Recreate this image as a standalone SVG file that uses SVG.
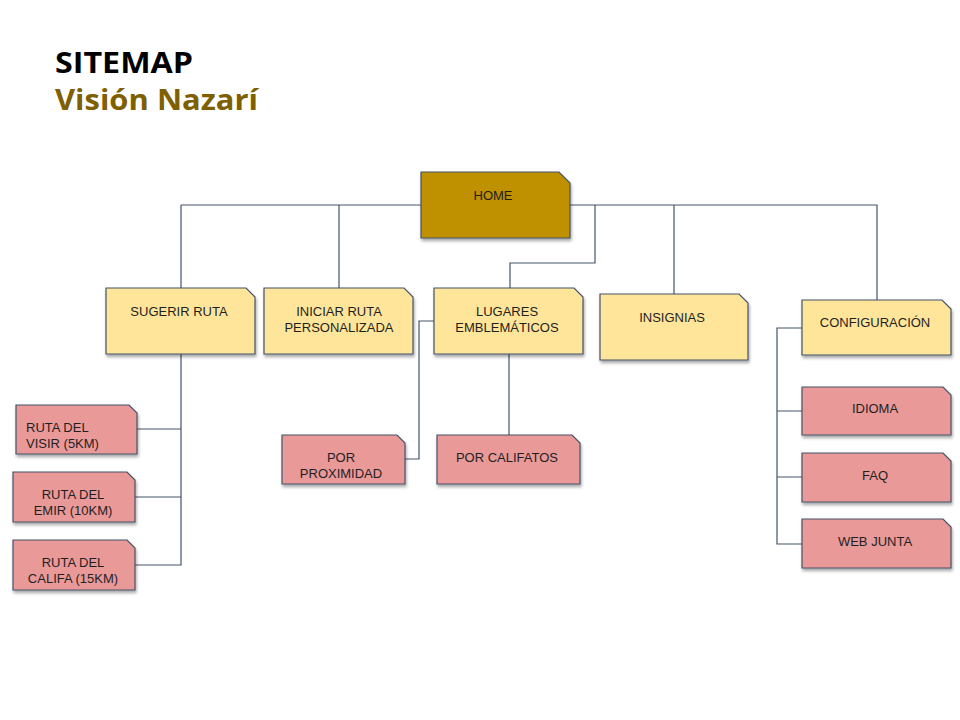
<svg xmlns="http://www.w3.org/2000/svg" width="960" height="720" viewBox="0 0 960 720">
<defs>
<filter id="sh" x="-10%" y="-10%" width="130%" height="140%">
<feDropShadow dx="1" dy="2.5" stdDeviation="1.5" flood-color="#000" flood-opacity="0.35"/>
</filter>
<style>
.box{stroke:#44546A;stroke-width:1.2;filter:url(#sh)}
.home{fill:#BF9000}
.y{fill:#FFE599}
.p{fill:#EA9999}
.t{font-family:"Liberation Sans",Arial,sans-serif;font-size:13px;fill:#1f1f1f;text-anchor:middle}
.tl{text-anchor:start}
.c{fill:none;stroke:#44546A;stroke-width:1.2}
</style>
</defs>
<rect width="960" height="720" fill="#fff"/>
<text x="55" y="73" font-family="'Open Sans',sans-serif" font-weight="bold" font-size="29" fill="#000" textLength="138" lengthAdjust="spacingAndGlyphs">SITEMAP</text>
<text x="55" y="110" font-family="'Open Sans',sans-serif" font-weight="bold" font-size="29" fill="#7F6000" textLength="203" lengthAdjust="spacingAndGlyphs">Visión Nazarí</text>

<g id="connectors" class="c">
<path d="M181,205 H421 M570,205 H877 V300"/>
<path d="M181,205 V288 M339,205 V288 M674,205 V294"/>
<path d="M595,205 V263 H510 V288"/>
<path d="M181,354 V565 H135 M137,429 H181 M135,497 H181"/>
<path d="M434,321 H419 V459 H405"/>
<path d="M509,354 V435"/>
<path d="M802,328 H777 V544 H802 M777,411 H802 M777,477 H802"/>
</g>

<g id="home"><path class="box home" d="M421,172 H559 L570,183 V238 H421 Z"/><text class="t" x="493" y="200">HOME</text></g>
<g id="sugerir"><path class="box y" d="M106,288 H246 L255,297 V354 H106 Z"/><text class="t" x="179" y="316">SUGERIR RUTA</text></g>
<g id="iniciar"><path class="box y" d="M264,288 H404 L413,297 V354 H264 Z"/><text class="t" x="339" y="316">INICIAR RUTA</text><text class="t" x="339" y="332">PERSONALIZADA</text></g>
<g id="lugares"><path class="box y" d="M434,288 H574 L583,297 V354 H434 Z"/><text class="t" x="507" y="316">LUGARES</text><text class="t" x="507" y="332">EMBLEMÁTICOS</text></g>
<g id="insignias"><path class="box y" d="M600,294 H739 L748,303 V360 H600 Z"/><text class="t" x="672" y="322">INSIGNIAS</text></g>
<g id="config"><path class="box y" d="M802,300 H942 L951,309 V355 H802 Z"/><text class="t" x="875" y="327">CONFIGURACIÓN</text></g>

<g id="visir"><path class="box p" d="M16,405 H129 L137,413 V454 H16 Z"/><text class="t tl" x="26" y="432">RUTA DEL</text><text class="t tl" x="26" y="448">VISIR (5KM)</text></g>
<g id="emir"><path class="box p" d="M13,472 H127 L135,480 V522 H13 Z"/><text class="t" x="73" y="499">RUTA DEL</text><text class="t" x="73" y="515">EMIR (10KM)</text></g>
<g id="califa"><path class="box p" d="M13,540 H127 L135,548 V590 H13 Z"/><text class="t" x="73" y="567">RUTA DEL</text><text class="t" x="73" y="583">CALIFA (15KM)</text></g>

<g id="proximidad"><path class="box p" d="M282,435 H397 L405,443 V484 H282 Z"/><text class="t" x="341" y="462">POR</text><text class="t" x="341" y="478">PROXIMIDAD</text></g>
<g id="califatos"><path class="box p" d="M437,435 H572 L580,443 V484 H437 Z"/><text class="t" x="507" y="462">POR CALIFATOS</text></g>

<g id="idioma"><path class="box p" d="M802,387 H943 L951,395 V435 H802 Z"/><text class="t" x="875" y="413">IDIOMA</text></g>
<g id="faq"><path class="box p" d="M802,453 H943 L951,461 V502 H802 Z"/><text class="t" x="875" y="480">FAQ</text></g>
<g id="web"><path class="box p" d="M802,519 H943 L951,527 V568 H802 Z"/><text class="t" x="875" y="546">WEB JUNTA</text></g>
</svg>
